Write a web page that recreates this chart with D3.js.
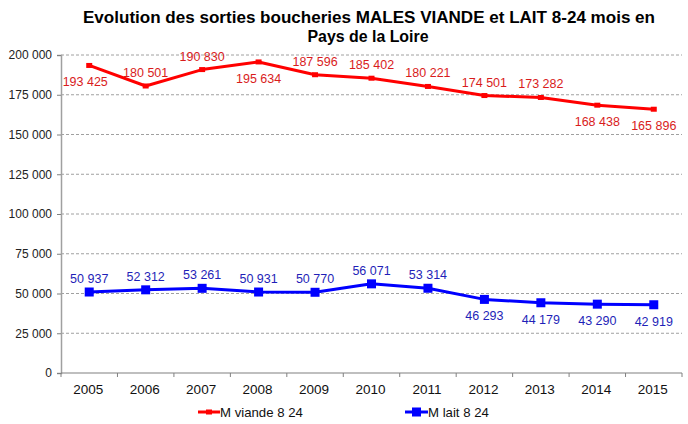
<!DOCTYPE html>
<html>
<head>
<meta charset="utf-8">
<script src="https://cdn.jsdelivr.net/npm/d3@7"></script>
<style>
  body { margin: 0; background: #fff; }
  svg { font-family: "Liberation Sans", Arial, sans-serif; }
</style>
</head>
<body>
<div id="chart"></div>
<script>
const years = ["2005", "2006", "2007", "2008", "2009", "2010", "2011", "2012", "2013", "2014", "2015"];
const viande = [193425, 180501, 190830, 195634, 187596, 185402, 180221, 174501, 173282, 168438, 165896];
const lait = [50937, 52312, 53261, 50931, 50770, 56071, 53314, 46293, 44179, 43290, 42919];
// label placement: 1 = above, -1 = below
const viandePos = [-1, 1, 1, -1, 1, 1, 1, 1, 1, -1, -1];
const laitPos = [1, 1, 1, 1, 1, 1, 1, -1, -1, -1, -1];
const yTicks = [0, 25000, 50000, 75000, 100000, 125000, 150000, 175000, 200000];

const W = 688, H = 424;
const margin = { top: 55, right: 6, bottom: 51, left: 61 };
const width = W - margin.left - margin.right;
const height = H - margin.top - margin.bottom;

const fmt = v => d3.format(",")(v).replace(/,/g, " ");

const svg = d3.select("#chart").append("svg")
  .attr("width", W).attr("height", H);

svg.append("text")
  .attr("x", 369).attr("y", 23)
  .attr("text-anchor", "middle")
  .attr("font-weight", "bold").attr("font-size", "16px")
  .attr("textLength", 572).attr("lengthAdjust", "spacingAndGlyphs")
  .text("Evolution des sorties boucheries MALES VIANDE et LAIT 8-24 mois en");
svg.append("text")
  .attr("x", 368).attr("y", 42)
  .attr("text-anchor", "middle")
  .attr("font-weight", "bold").attr("font-size", "16px")
  .attr("textLength", 121).attr("lengthAdjust", "spacingAndGlyphs")
  .text("Pays de la Loire");

const g = svg.append("g").attr("transform", `translate(${margin.left},${margin.top})`);

const x = d3.scaleBand().domain(years).range([0, width]);
const y = d3.scaleLinear().domain([0, 200000]).range([height, 0]);
const cx = d => x(d) + x.bandwidth() / 2;

// grid
g.append("g")
  .selectAll("line")
  .data(yTicks.filter(t => t > 0))
  .enter().append("line")
  .attr("x1", 0).attr("x2", width)
  .attr("y1", d => y(d)).attr("y2", d => y(d))
  .attr("stroke", "#a0a0a0")
  .attr("stroke-dasharray", "3,2");

// y axis
const ya = g.append("g")
  .call(d3.axisLeft(y).tickValues(yTicks).tickSize(4).tickPadding(5).tickFormat(fmt));
ya.select(".domain").attr("stroke", "#a0a0a0").attr("stroke-width", 1.5);
ya.selectAll(".tick line").attr("stroke", "#808080");
ya.selectAll("text").attr("font-size", "12px").attr("fill", "#222")
  .attr("font-family", "Liberation Sans, Arial, sans-serif");

// x axis
const xa = g.append("g").attr("transform", `translate(0,${height})`);
xa.append("line").attr("x1", 0).attr("x2", width).attr("stroke", "#808080").attr("stroke-width", 1.2);
xa.selectAll(".xt")
  .data(years.concat(["end"]))
  .enter().append("line")
  .attr("x1", (d, i) => i * x.bandwidth()).attr("x2", (d, i) => i * x.bandwidth())
  .attr("y1", 0).attr("y2", 4)
  .attr("stroke", "#808080");
xa.selectAll(".xl")
  .data(years)
  .enter().append("text")
  .attr("x", d => cx(d) - 1).attr("y", 21)
  .attr("text-anchor", "middle")
  .attr("font-size", "13.5px").attr("fill", "#111")
  .text(d => d);

const line = d3.line().x((d, i) => cx(years[i])).y(d => y(d));

// series
function drawSeries(values, pos, lineColor, labelColor, marker) {
  g.append("path")
    .datum(values)
    .attr("d", line)
    .attr("fill", "none")
    .attr("stroke", lineColor)
    .attr("stroke-width", 3)
    .attr("stroke-linejoin", "round");

  if (marker === "square") {
    g.selectAll(null).data(values).enter().append("rect")
      .attr("x", (d, i) => cx(years[i]) - 4.5)
      .attr("y", d => y(d) - 4.5)
      .attr("width", 9).attr("height", 9)
      .attr("fill", lineColor);
  } else {
    g.selectAll(null).data(values).enter().append("rect")
      .attr("x", (d, i) => cx(years[i]) - 3)
      .attr("y", d => y(d) - 2.5)
      .attr("width", 6).attr("height", 5)
      .attr("fill", lineColor);
  }

  g.selectAll(null).data(values).enter().append("text")
    .attr("x", (d, i) => cx(years[i]) - (i === 0 && pos[i] < 0 ? 4 : 0))
    .attr("y", (d, i) => y(d) + (pos[i] > 0 ? -9 : 21))
    .attr("text-anchor", "middle")
    .attr("font-size", "12.5px")
    .attr("fill", labelColor)
    .text(d => fmt(d));
}

drawSeries(viande, viandePos, "#ff0000", "#d91c1c", "dash");
drawSeries(lait, laitPos, "#0000ff", "#1f1fb8", "square");

// legend
const leg = svg.append("g").attr("transform", "translate(0,412)");
leg.append("line").attr("x1", 198).attr("x2", 220).attr("y1", 0).attr("y2", 0)
  .attr("stroke", "#ff0000").attr("stroke-width", 3);
leg.append("rect").attr("x", 206).attr("y", -2.5).attr("width", 6).attr("height", 5).attr("fill", "#ff0000");
leg.append("text").attr("x", 220).attr("y", 5).attr("font-size", "13.2px").attr("fill", "#111")
  .text("M viande 8 24");
leg.append("line").attr("x1", 405).attr("x2", 428).attr("y1", 0).attr("y2", 0)
  .attr("stroke", "#0000ff").attr("stroke-width", 3);
leg.append("rect").attr("x", 412).attr("y", -4.5).attr("width", 9).attr("height", 9).attr("fill", "#0000ff");
leg.append("text").attr("x", 428).attr("y", 5).attr("font-size", "13.2px").attr("fill", "#111")
  .text("M lait 8 24");
</script>
</body>
</html>
